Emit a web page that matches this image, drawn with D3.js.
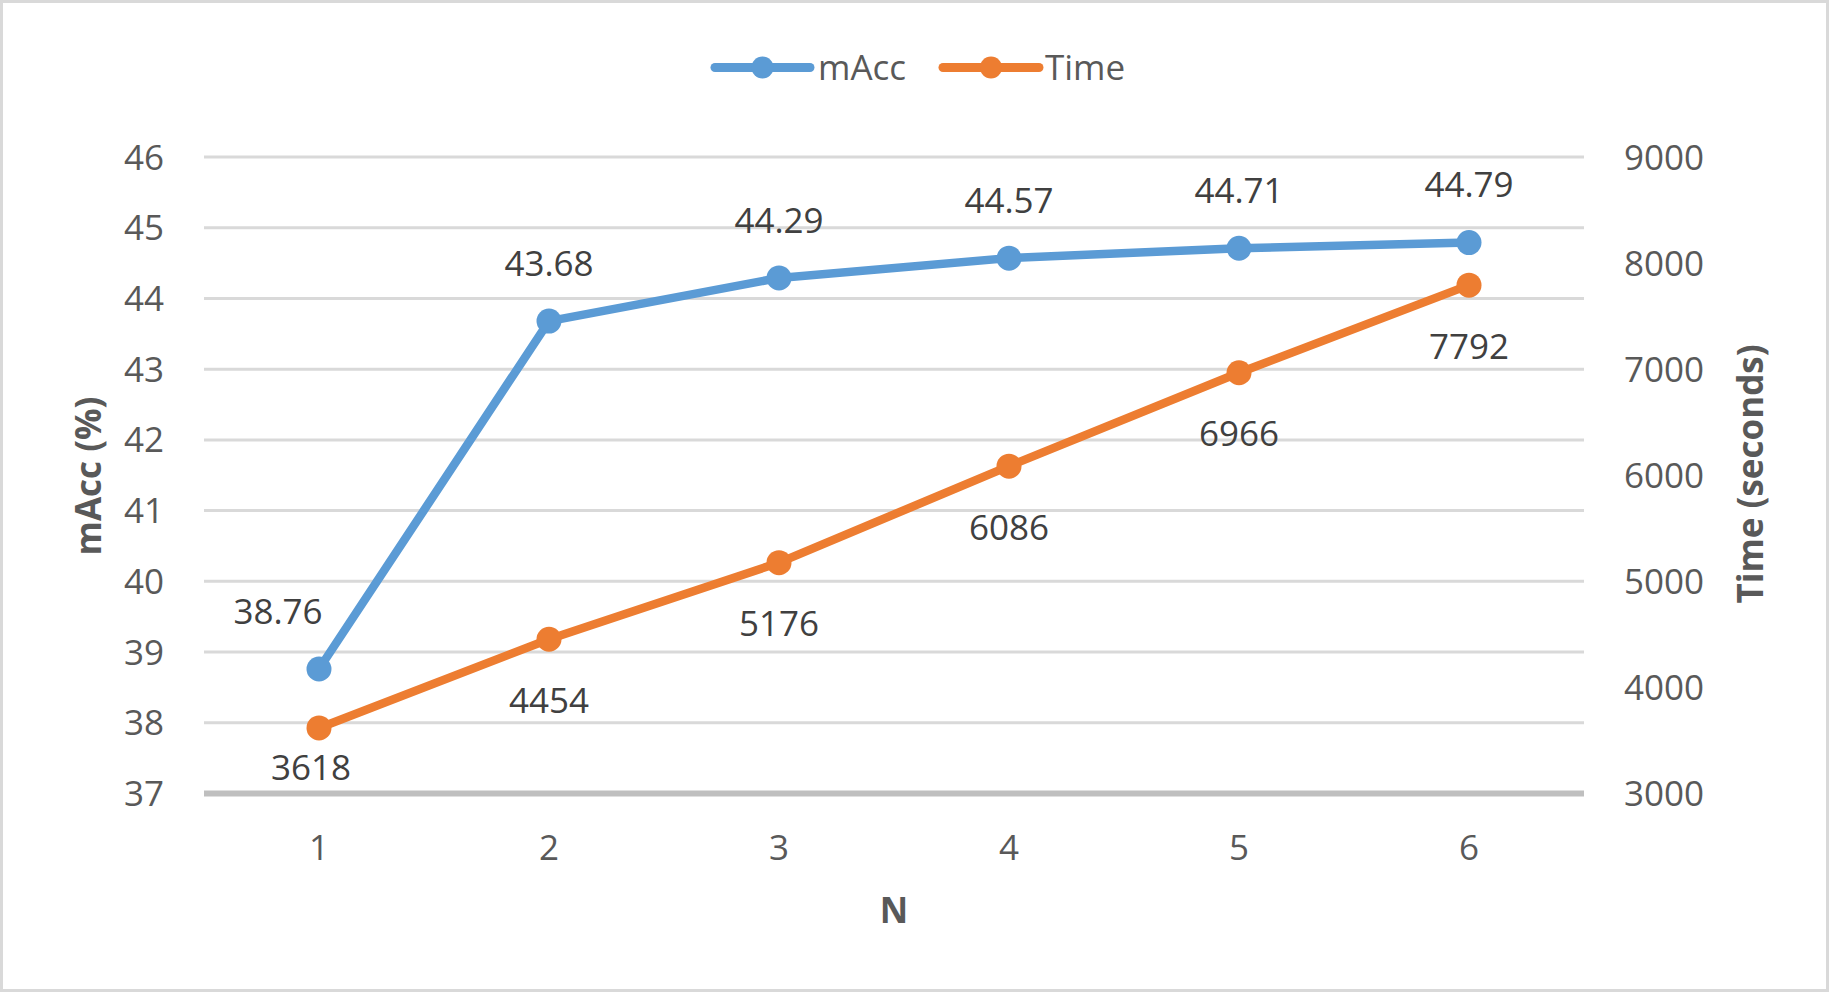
<!DOCTYPE html>
<html>
<head>
<meta charset="utf-8">
<script src="https://cdn.jsdelivr.net/npm/d3@7"></script>
<style>
  html, body { margin: 0; padding: 0; background: #fff; }
  svg { display: block; font-family: "Open Sans", sans-serif; }
</style>
</head>
<body>
<svg id="chart" width="1830" height="993"></svg>
<script>
// ---- data ----
const categories = ["1", "2", "3", "4", "5", "6"];
const mAccValues = [38.76, 43.68, 44.29, 44.57, 44.71, 44.79];
const timeValues = [3618, 4454, 5176, 6086, 6966, 7792];
const leftTicks = [37, 38, 39, 40, 41, 42, 43, 44, 45, 46];
const rightTicks = [3000, 4000, 5000, 6000, 7000, 8000, 9000];
const seriesNames = ["mAcc", "Time"];
const xTitle = "N";
const yLeftTitle = "mAcc (%)";
const yRightTitle = "Time (seconds)";

// ---- layout ----
const W = 1830, H = 993;
const plot = { left: 204, right: 1584, top: 157, bottom: 793.5 };
const colors = { mAcc: "#5B9BD5", Time: "#ED7D31" };
const tickColor = "#595959", labelColor = "#404040";
const fs = 35;

const svg = d3.select("#chart");
svg.append("rect").attr("x", 1.5).attr("y", 1.5).attr("width", W - 4).attr("height", H - 4)
  .attr("fill", "#fff").attr("stroke", "#D9D9D9").attr("stroke-width", 3);

const x = d3.scaleBand().domain(categories).range([plot.left, plot.right]);
const cx = c => x(c) + x.bandwidth() / 2;
const yL = d3.scaleLinear().domain([37, 46]).range([plot.bottom, plot.top]);
const yR = d3.scaleLinear().domain([3000, 9000]).range([plot.bottom, plot.top]);

// gridlines
svg.append("g").selectAll("line").data(leftTicks.filter(t => t !== 37)).join("line")
  .attr("x1", plot.left).attr("x2", plot.right)
  .attr("y1", d => yL(d)).attr("y2", d => yL(d))
  .attr("stroke", "#D9D9D9").attr("stroke-width", 3);
// category axis line
svg.append("line").attr("x1", plot.left).attr("x2", plot.right)
  .attr("y1", yL(37)).attr("y2", yL(37))
  .attr("stroke", "#BFBFBF").attr("stroke-width", 6);

// left tick labels
svg.append("g").selectAll("text").data(leftTicks).join("text")
  .attr("x", 164).attr("y", d => yL(d)).attr("dy", "0.36em")
  .attr("text-anchor", "end").attr("font-size", fs).attr("fill", tickColor)
  .text(d => d);
// right tick labels
svg.append("g").selectAll("text").data(rightTicks).join("text")
  .attr("x", 1624).attr("y", d => yR(d)).attr("dy", "0.36em")
  .attr("text-anchor", "start").attr("font-size", fs).attr("fill", tickColor)
  .text(d => d);
// x tick labels
svg.append("g").selectAll("text").data(categories).join("text")
  .attr("x", d => cx(d)).attr("y", 847).attr("dy", "0.36em")
  .attr("text-anchor", "middle").attr("font-size", fs).attr("fill", tickColor)
  .text(d => d);

// axis titles
svg.append("text").attr("x", 894).attr("y", 910.5).attr("dy", "0.36em")
  .attr("text-anchor", "middle").attr("font-size", 35).attr("font-weight", "bold")
  .attr("fill", tickColor).text(xTitle);
svg.append("text").attr("transform", "translate(88,476) rotate(-90)").attr("dy", "0.36em")
  .attr("text-anchor", "middle").attr("font-size", 35).attr("font-weight", "bold")
  .attr("fill", tickColor).text(yLeftTitle);
svg.append("text").attr("transform", "translate(1750,474) rotate(-90)").attr("dy", "0.36em")
  .attr("text-anchor", "middle").attr("font-size", 35).attr("font-weight", "bold")
  .attr("fill", tickColor).text(yRightTitle);

// series
const lineW = 8.5, markerR = 12.5;
function drawSeries(values, yScale, color) {
  const pts = categories.map((c, i) => [cx(c), yScale(values[i])]);
  svg.append("path").attr("d", d3.line()(pts)).attr("fill", "none")
    .attr("stroke", color).attr("stroke-width", lineW)
    .attr("stroke-linejoin", "round").attr("stroke-linecap", "round");
  svg.append("g").selectAll("circle").data(pts).join("circle")
    .attr("cx", d => d[0]).attr("cy", d => d[1]).attr("r", markerR).attr("fill", color);
}
drawSeries(mAccValues, yL, colors.mAcc);
drawSeries(timeValues, yR, colors.Time);

// data labels
const mAccLabelDx = [-41, 0, 0, 0, 0, 0];
svg.append("g").selectAll("text").data(mAccValues).join("text")
  .attr("x", (d, i) => cx(categories[i]) + mAccLabelDx[i])
  .attr("y", d => yL(d) - 58).attr("dy", "0.36em")
  .attr("text-anchor", "middle").attr("font-size", fs).attr("fill", labelColor)
  .text(d => d.toFixed(2));
const timeLabelDy = [39, 61, 61, 61, 61, 61];
const timeLabelDx = [-8, 0, 0, 0, 0, 0];
svg.append("g").selectAll("text").data(timeValues).join("text")
  .attr("x", (d, i) => cx(categories[i]) + timeLabelDx[i])
  .attr("y", (d, i) => yR(d) + timeLabelDy[i]).attr("dy", "0.36em")
  .attr("text-anchor", "middle").attr("font-size", fs).attr("fill", labelColor)
  .text(d => d);

// legend
const legendItems = [
  { name: seriesNames[0], color: colors.mAcc, x1: 715, x2: 810, tx: 818 },
  { name: seriesNames[1], color: colors.Time, x1: 943, x2: 1039, tx: 1045 }
];
const ly = 67.5;
const lg = svg.append("g");
legendItems.forEach(it => {
  lg.append("line").attr("x1", it.x1).attr("x2", it.x2).attr("y1", ly).attr("y2", ly)
    .attr("stroke", it.color).attr("stroke-width", 9).attr("stroke-linecap", "round");
  lg.append("circle").attr("cx", (it.x1 + it.x2) / 2).attr("cy", ly).attr("r", 11).attr("fill", it.color);
  lg.append("text").attr("x", it.tx).attr("y", ly).attr("dy", "0.36em")
    .attr("font-size", fs).attr("fill", tickColor).text(it.name);
});
</script>
</body>
</html>
